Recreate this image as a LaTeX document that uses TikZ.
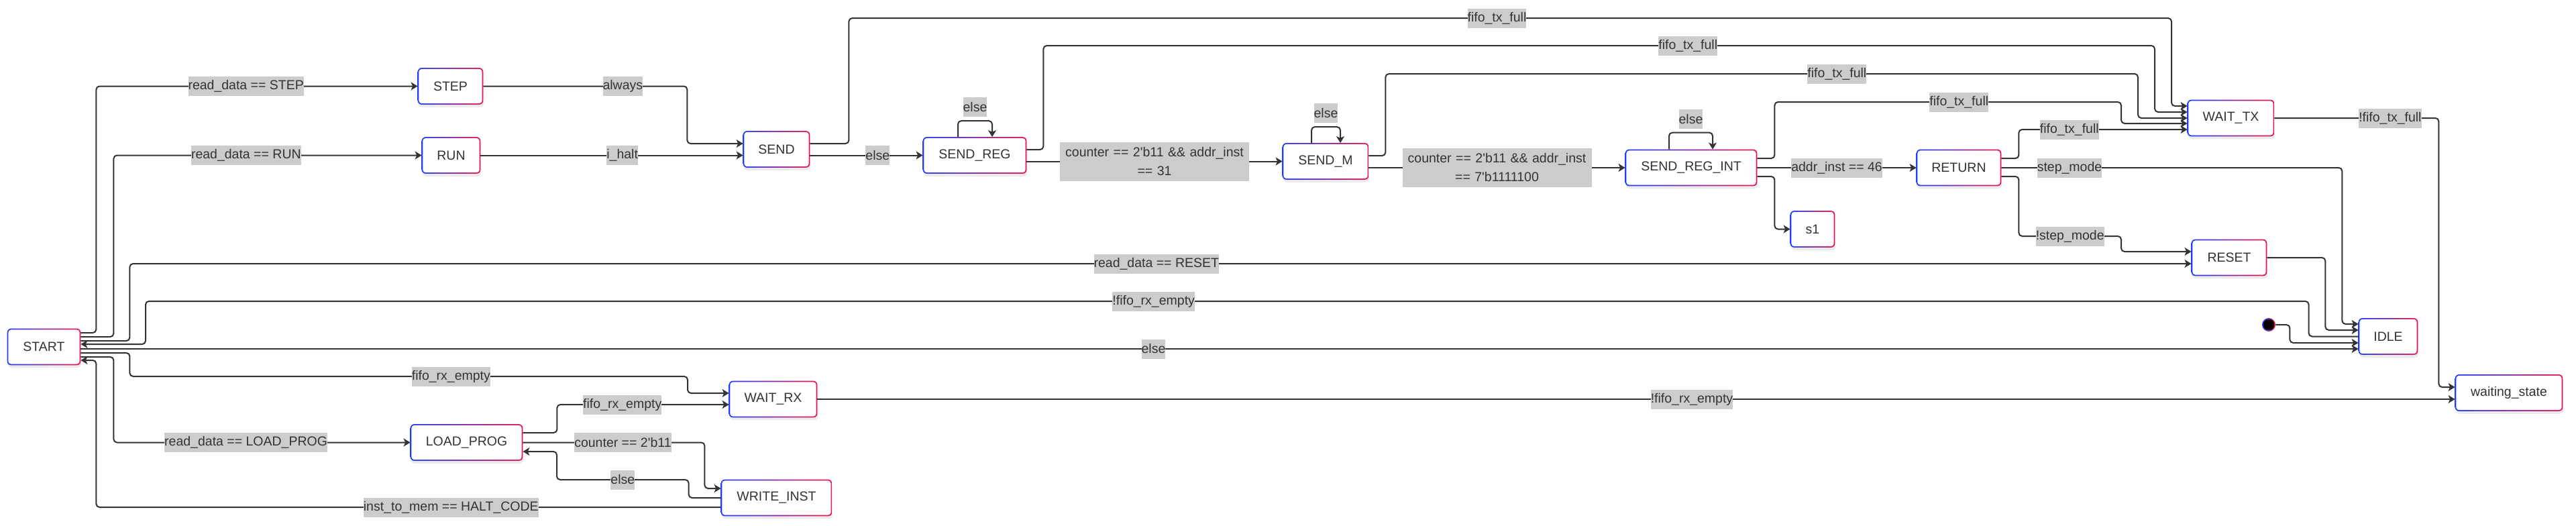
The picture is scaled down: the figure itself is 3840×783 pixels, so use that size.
\documentclass[tikz,border=0pt]{standalone}
\usepackage{fontspec}
\setmainfont{Liberation Sans}[Ligatures=TeXOff]
\usetikzlibrary{arrows.meta,calc,backgrounds}
\definecolor{txt}{HTML}{333333}
\definecolor{linec}{HTML}{333333}
\definecolor{lblgray}{HTML}{CCCCCC}
\definecolor{gblue}{HTML}{1F3CFF}
\definecolor{gred}{HTML}{EE1450}
\newcommand{\fs}{\fontsize{9.75}{14}\selectfont}
\begin{document}
\begin{tikzpicture}[x=0.5pt,y=-0.5pt,
  state/.style={minimum height=27pt, inner sep=0pt, text=txt, font=\fs},
  wd/.style={minimum width=#1*0.5pt},
  lbl/.style={sharp corners, fill=lblgray, inner xsep=0pt, inner ysep=0pt, minimum height=14.5pt, text=txt, font=\fs},
  lbl2/.style={lbl, align=center, text width=141pt, minimum height=29pt},
  edge/.style={draw=linec, line width=1pt, rounded corners=2.5pt, -{Stealth[length=5pt,width=6pt,inset=1.3pt]}},
]
\useasboundingbox (0,0) rectangle (3840,783);

% states
\node[state,wd=109] (START) at (65.5,517) {START};
\node[state,wd=97] (STEP) at (671.5,128.5) {STEP};
\node[state,wd=87] (RUN) at (672.5,231.5) {RUN};
\node[state,wd=99] (SEND) at (1157.5,222.5) {SEND};
\node[state,wd=154] (SENDREG) at (1453,231.5) {SEND\_REG};
\node[state,wd=128] (SENDM) at (1976,240.5) {SEND\_M};
\node[state,wd=196] (SENDREGINT) at (2521,250) {SEND\_REG\_INT};
\node[state,wd=126] (RETURN) at (2920,250) {RETURN};
\node[state,wd=66] (s1) at (2702,341.5) {s1};
\node[state,wd=129] (WAITTX) at (3325.5,176) {WAIT\_TX};
\node[state,wd=112] (RESET) at (3323,384) {RESET};
\node[state,wd=88] (IDLE) at (3560,501.5) {IDLE};
\node[state,wd=160] (waitingstate) at (3740,585.5) {waiting\_state};
\node[state,wd=131] (WAITRX) at (1152.5,595) {WAIT\_RX};
\node[state,wd=167] (LOADPROG) at (695.5,659.5) {LOAD\_PROG};
\node[state,wd=165] (WRITEINST) at (1157.5,742) {WRITE\_INST};
\node[circle, minimum size=10pt, inner sep=0pt] (init) at (3382,484) {};

\begin{pgfonlayer}{background}
\foreach \n in {START,STEP,RUN,SEND,SENDREG,SENDM,SENDREGINT,RETURN,s1,WAITTX,RESET,IDLE,waitingstate,WAITRX,LOADPROG,WRITEINST} {
  \fill[black, opacity=0.08, rounded corners=3pt] ($(\n.south west)+(1,4)$) rectangle ($(\n.north east)+(1,4)$);
  \shade[left color=gblue, right color=gred, rounded corners=3pt] (\n.south west) rectangle (\n.north east);
  \fill[white, rounded corners=2.2pt] ($(\n.south west)+(1.7,-1.7)$) rectangle ($(\n.north east)+(-1.7,1.7)$);
}
\shade[left color=gblue, right color=gred] (init) circle (5pt);
\fill[black] (init) circle (4.1pt);
\end{pgfonlayer}

% edges from START
\draw[edge] ($(START.east)+(0,-21)$) -- ++(23,0) |- node[lbl,pos=0.733]{read\_data == STEP} (STEP.west);
\draw[edge] ($(START.east)+(0,-15)$) -- ++(49,0) |- node[lbl,pos=0.715]{read\_data == RUN} (RUN.west);
\draw[edge] ($(START.east)+(0,-9)$) -- ++(73,0) |- node[lbl,pos=0.749]{read\_data == RESET} ($(RESET.west)+(0,9)$);
\draw[edge] (IDLE.west) -- ++(-74,0) |- node[lbl,pos=0.767]{!fifo\_rx\_empty} (217,449) |- ($(START.east)+(0,-4)$);
\draw[edge] ($(START.east)+(0,3)$) -- node[lbl,pos=0.471]{else} ($(IDLE.west)+(0,18.5)$);
\draw[edge] ($(START.east)+(0,9)$) -- ++(73,0) |- node[lbl,pos=0.788]{fifo\_rx\_empty} (1025,561) |- ($(WAITRX.west)+(0,-9)$);
\draw[edge] ($(START.east)+(0,15)$) -- ++(49,0) |- node[lbl,pos=0.723]{read\_data == LOAD\_PROG} (LOADPROG.west);
\draw[edge] ($(WRITEINST.west)+(0,14)$) -| node[lbl,pos=0.216]{inst\_to\_mem == HALT\_CODE} ($(START.east)+(23,20)$) -- ($(START.east)+(0,20)$);

% top chain
\draw[edge] (STEP.east) -- node[lbl,pos=0.684]{always} ++(304,0) |- ($(SEND.west)+(0,-8.5)$);
\draw[edge] (RUN.east) -- node[lbl,pos=0.54]{i\_halt} ($(SEND.west)+(0,9)$);
\draw[edge] ($(SEND.east)+(0,-8.5)$) -- ++(58,0) |- node[lbl,pos=0.745]{fifo\_tx\_full} (3237,27) |- ($(WAITTX.west)+(0,-18)$);
\draw[edge] ($(SEND.east)+(0,9)$) -- node[lbl,pos=0.6]{else} (SENDREG.west);
\draw[edge] ($(SENDREG.north)+(-25,0)$) -- ++(0,-24) -- node[lbl,above=2.5pt]{else} ++(51,0) -- ($(SENDREG.north)+(26,0)$);
\draw[edge] ($(SENDREG.east)+(0,-8.5)$) -- ++(25,0) |- node[lbl,pos=0.79]{fifo\_tx\_full} (3212,68) |- ($(WAITTX.west)+(0,-9)$);
\draw[edge] ($(SENDREG.east)+(0,9)$) -- node[lbl2]{counter == 2'b11 \&\& addr\_inst\\== 31} (SENDM.west);
\draw[edge] ($(SENDM.north)+(-21,0)$) -- ++(0,-24) -- node[lbl,above=2.5pt]{else} ++(43,0) -- ($(SENDM.north)+(22,0)$);
\draw[edge] ($(SENDM.east)+(0,-8.5)$) -- ++(25,0) |- node[lbl,pos=0.8]{fifo\_tx\_full} (3187,110) |- (WAITTX.west);
\draw[edge] ($(SENDM.east)+(0,9.5)$) -- node[lbl2]{counter == 2'b11 \&\& addr\_inst\\== 7'b1111100} (SENDREGINT.west);
\draw[edge] ($(SENDREGINT.north)+(-33,0)$) -- ++(0,-25) -- node[lbl,above=2.5pt]{else} ++(65,0) -- ($(SENDREGINT.north)+(32,0)$);
\draw[edge] ($(SENDREGINT.east)+(0,-14)$) -- ++(26,0) |- node[lbl,pos=0.766]{fifo\_tx\_full} (3162,152) |- ($(WAITTX.west)+(0,8)$);
\draw[edge] (SENDREGINT.east) -- node[lbl]{addr\_inst == 46} (RETURN.west);
\draw[edge] ($(SENDREGINT.east)+(0,13)$) -- ++(26,0) |- (s1.west);
\draw[edge] ($(RETURN.east)+(0,-14)$) -- ++(26,0) |- node[lbl,pos=0.65]{fifo\_tx\_full} ($(WAITTX.west)+(0,17)$);
\draw[edge] (RETURN.east) -- node[lbl,pos=0.2]{step\_mode} ++(508,0) |- ($(IDLE.west)+(0,-18.5)$);
\draw[edge] ($(RETURN.east)+(0,13)$) -- ++(26,0) |- node[lbl,pos=0.75]{!step\_mode} (3162,352) |- ($(RESET.west)+(0,-9)$);
\draw[edge] (RESET.east) -- ++(87,0) |- ($(IDLE.west)+(0,-9.5)$);
\draw[edge] (init.east) -- ++(21,0) |- ($(IDLE.west)+(0,9.5)$);
\draw[edge] (WAITTX.east) -- node[lbl,pos=0.704]{!fifo\_tx\_full} ++(245,0) |- ($(waitingstate.west)+(0,-8.5)$);

% bottom part
\draw[edge] (WAITRX.east) -- node[lbl,pos=0.534]{!fifo\_rx\_empty} ($(waitingstate.west)+(0,9.5)$);
\draw[edge] ($(LOADPROG.east)+(0,-14.5)$) -- ++(51,0) |- node[lbl,pos=0.69]{fifo\_rx\_empty} ($(WAITRX.west)+(0,8)$);
\draw[edge] (LOADPROG.east) -- node[lbl,pos=0.55]{counter == 2'b11} ++(271,0) |- ($(WRITEINST.west)+(0,-14)$);
\draw[edge] (WRITEINST.west) -- ++(-48,0) |- node[lbl,pos=0.75]{else} (830,715) |- ($(LOADPROG.east)+(0,13.5)$);
\end{tikzpicture}
\end{document}
